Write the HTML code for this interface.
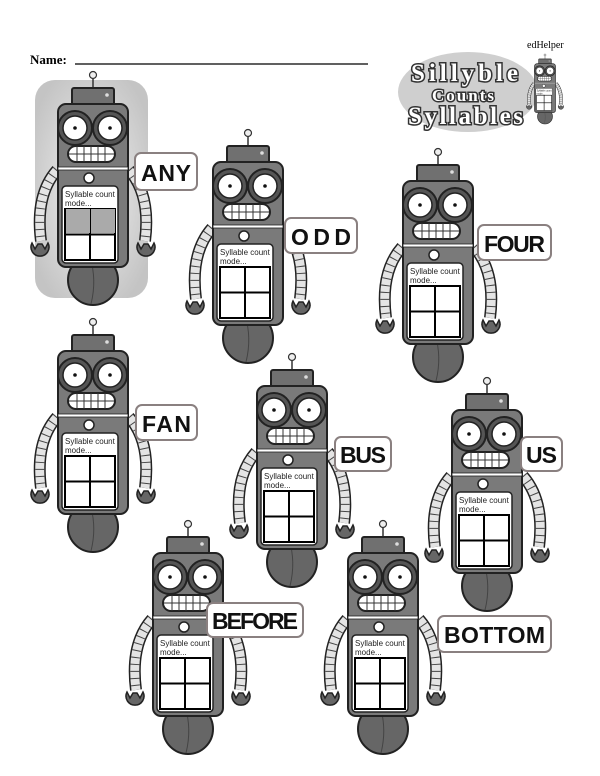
<!DOCTYPE html>
<html><head><meta charset="utf-8"><style>
html,body{margin:0;padding:0;background:#fff;}
svg{display:block}
</style></head><body>
<svg width="600" height="776" viewBox="0 0 600 776" xmlns="http://www.w3.org/2000/svg">
<defs>
<radialGradient id="hg" cx="50%" cy="50%" r="60%">
<stop offset="0" stop-color="#f2f2f2"/><stop offset="1" stop-color="#c4c4c4"/></radialGradient>
<g id="arm">
<path d="M-36,95 Q-58,120 -52,166" fill="none" stroke="#222" stroke-width="12"/>
<path d="M-36,95 Q-58,120 -52,166" fill="none" stroke="#e4e4e4" stroke-width="9"/>
<path d="M-36,95 Q-58,120 -52,166" fill="none" stroke="#444" stroke-width="9" stroke-dasharray="1 6"/>
<path d="M-61,168 a9,9 0 1,0 16,0 l-3,6 l-3,-5 l-4,0 l-3,5 z" fill="#666" stroke="#222" stroke-width="1.5"/>
</g>
<g id="r">
<ellipse cx="0" cy="205" rx="25" ry="25" fill="#666" stroke="#222" stroke-width="2"/>
<path d="M-3,182 Q4,205 -2,229" fill="none" stroke="#444"/>
<use href="#arm"/>
<use href="#arm" transform="scale(-1,1)"/>
<line x1="0" y1="4" x2="0" y2="14" stroke="#333" stroke-width="1.5"/>
<circle cx="0" cy="0" r="3.5" fill="#eee" stroke="#333" stroke-width="1.2"/>
<rect x="-21" y="13" width="42" height="18" rx="2" fill="#707070" stroke="#222" stroke-width="2"/>
<circle cx="14" cy="20" r="1.8" fill="#ddd"/>
<rect x="-35" y="29" width="70" height="163" rx="8" fill="#7a7a7a" stroke="#222" stroke-width="2"/>
<circle cx="-18" cy="53" r="17" fill="#555" stroke="#222" stroke-width="2"/>
<circle cx="-18" cy="53" r="12" fill="#fff" stroke="#222" stroke-width="1.5"/>
<circle cx="-18" cy="53" r="1.8" fill="#111"/>
<circle cx="17" cy="53" r="17" fill="#555" stroke="#222" stroke-width="2"/>
<circle cx="17" cy="53" r="12" fill="#fff" stroke="#222" stroke-width="1.5"/>
<circle cx="17" cy="53" r="1.8" fill="#111"/>
<rect x="-25" y="71" width="47" height="16" rx="8" fill="#fff" stroke="#222" stroke-width="2"/>
<path d="M-24,79 H21 M-16,71 V87 M-9,71 V87 M-2,71 V87 M5,71 V87 M12,71 V87" stroke="#333" stroke-width="1"/>
<rect x="-35" y="92" width="70" height="3" fill="#fff" stroke="#222" stroke-width="0.8"/>
<circle cx="-4" cy="103" r="5" fill="#fff" stroke="#222" stroke-width="1.5"/>
<rect x="-31" y="111" width="56" height="77" rx="4" fill="#fff" stroke="#222" stroke-width="1.5"/>
<text x="-28" y="122" font-family="Liberation Sans, sans-serif" font-size="8" fill="#222">Syllable count</text>
<text x="-28" y="131" font-family="Liberation Sans, sans-serif" font-size="8" fill="#222">mode...</text>
<rect x="-28" y="134" width="50" height="51" fill="none" stroke="#000" stroke-width="2"/>
<path d="M-3,134 V185 M-28,159.5 H22" stroke="#000" stroke-width="2"/>
</g>
</defs>

<text x="30" y="64" font-family="Liberation Serif, serif" font-weight="bold" font-size="13">Name:</text>
<line x1="75" y1="64" x2="368" y2="64" stroke="#000" stroke-width="1.2"/>

<!-- logo -->
<ellipse cx="468" cy="92" rx="70" ry="40" fill="#cfcfcf"/>
<g font-family="Liberation Serif, serif" font-weight="bold" fill="#fff" stroke="#333" stroke-width="3" paint-order="stroke">
<text x="411" y="81" font-size="25" textLength="107">Sillyble</text>
<text x="432" y="101" font-size="17" textLength="62">Counts</text>
<text x="408" y="124" font-size="25" textLength="115">Syllables</text>
</g>
<text x="527" y="48" font-family="Liberation Serif, serif" font-size="10">edHelper</text>
<use href="#r" transform="translate(545,55) scale(0.3)"/>

<!-- highlight -->
<rect x="35" y="80" width="113" height="218" rx="20" fill="url(#hg)"/>

<g>
<use href="#r" transform="translate(93,75)"/>
<rect x="66" y="209" width="24" height="24" fill="#aaa"/>
<rect x="91" y="209" width="24" height="24" fill="#aaa"/>
<use href="#r" transform="translate(248,133)"/>
<use href="#r" transform="translate(438,152)"/>
<use href="#r" transform="translate(93,322)"/>
<use href="#r" transform="translate(292,357)"/>
<use href="#r" transform="translate(487,381)"/>
<use href="#r" transform="translate(188,524)"/>
<use href="#r" transform="translate(383,524)"/>
</g>

<g font-family="Liberation Sans, sans-serif" font-weight="bold" font-size="23" fill="#111">
<rect x="135" y="153" width="62" height="37" rx="6" fill="#fff" stroke="#8a8080" stroke-width="2"/>
<text x="141" y="181" textLength="50">ANY</text>
<rect x="285" y="218" width="72" height="35" rx="6" fill="#fff" stroke="#8a8080" stroke-width="2"/>
<text x="291" y="245" textLength="60">ODD</text>
<rect x="478" y="225" width="73" height="35" rx="6" fill="#fff" stroke="#8a8080" stroke-width="2"/>
<text x="484" y="252" textLength="61">FOUR</text>
<rect x="136" y="405" width="61" height="35" rx="6" fill="#fff" stroke="#8a8080" stroke-width="2"/>
<text x="142" y="432" textLength="49">FAN</text>
<rect x="335" y="437" width="56" height="34" rx="6" fill="#fff" stroke="#8a8080" stroke-width="2"/>
<text x="340" y="463" textLength="46">BUS</text>
<rect x="521" y="437" width="41" height="34" rx="6" fill="#fff" stroke="#8a8080" stroke-width="2"/>
<text x="526" y="463" textLength="31">US</text>
<rect x="207" y="603" width="96" height="34" rx="6" fill="#fff" stroke="#8a8080" stroke-width="2"/>
<text x="212" y="629" textLength="86">BEFORE</text>
<rect x="438" y="616" width="113" height="36" rx="6" fill="#fff" stroke="#8a8080" stroke-width="2"/>
<text x="444" y="643" textLength="101">BOTTOM</text>
</g>
</svg>
</body></html>
